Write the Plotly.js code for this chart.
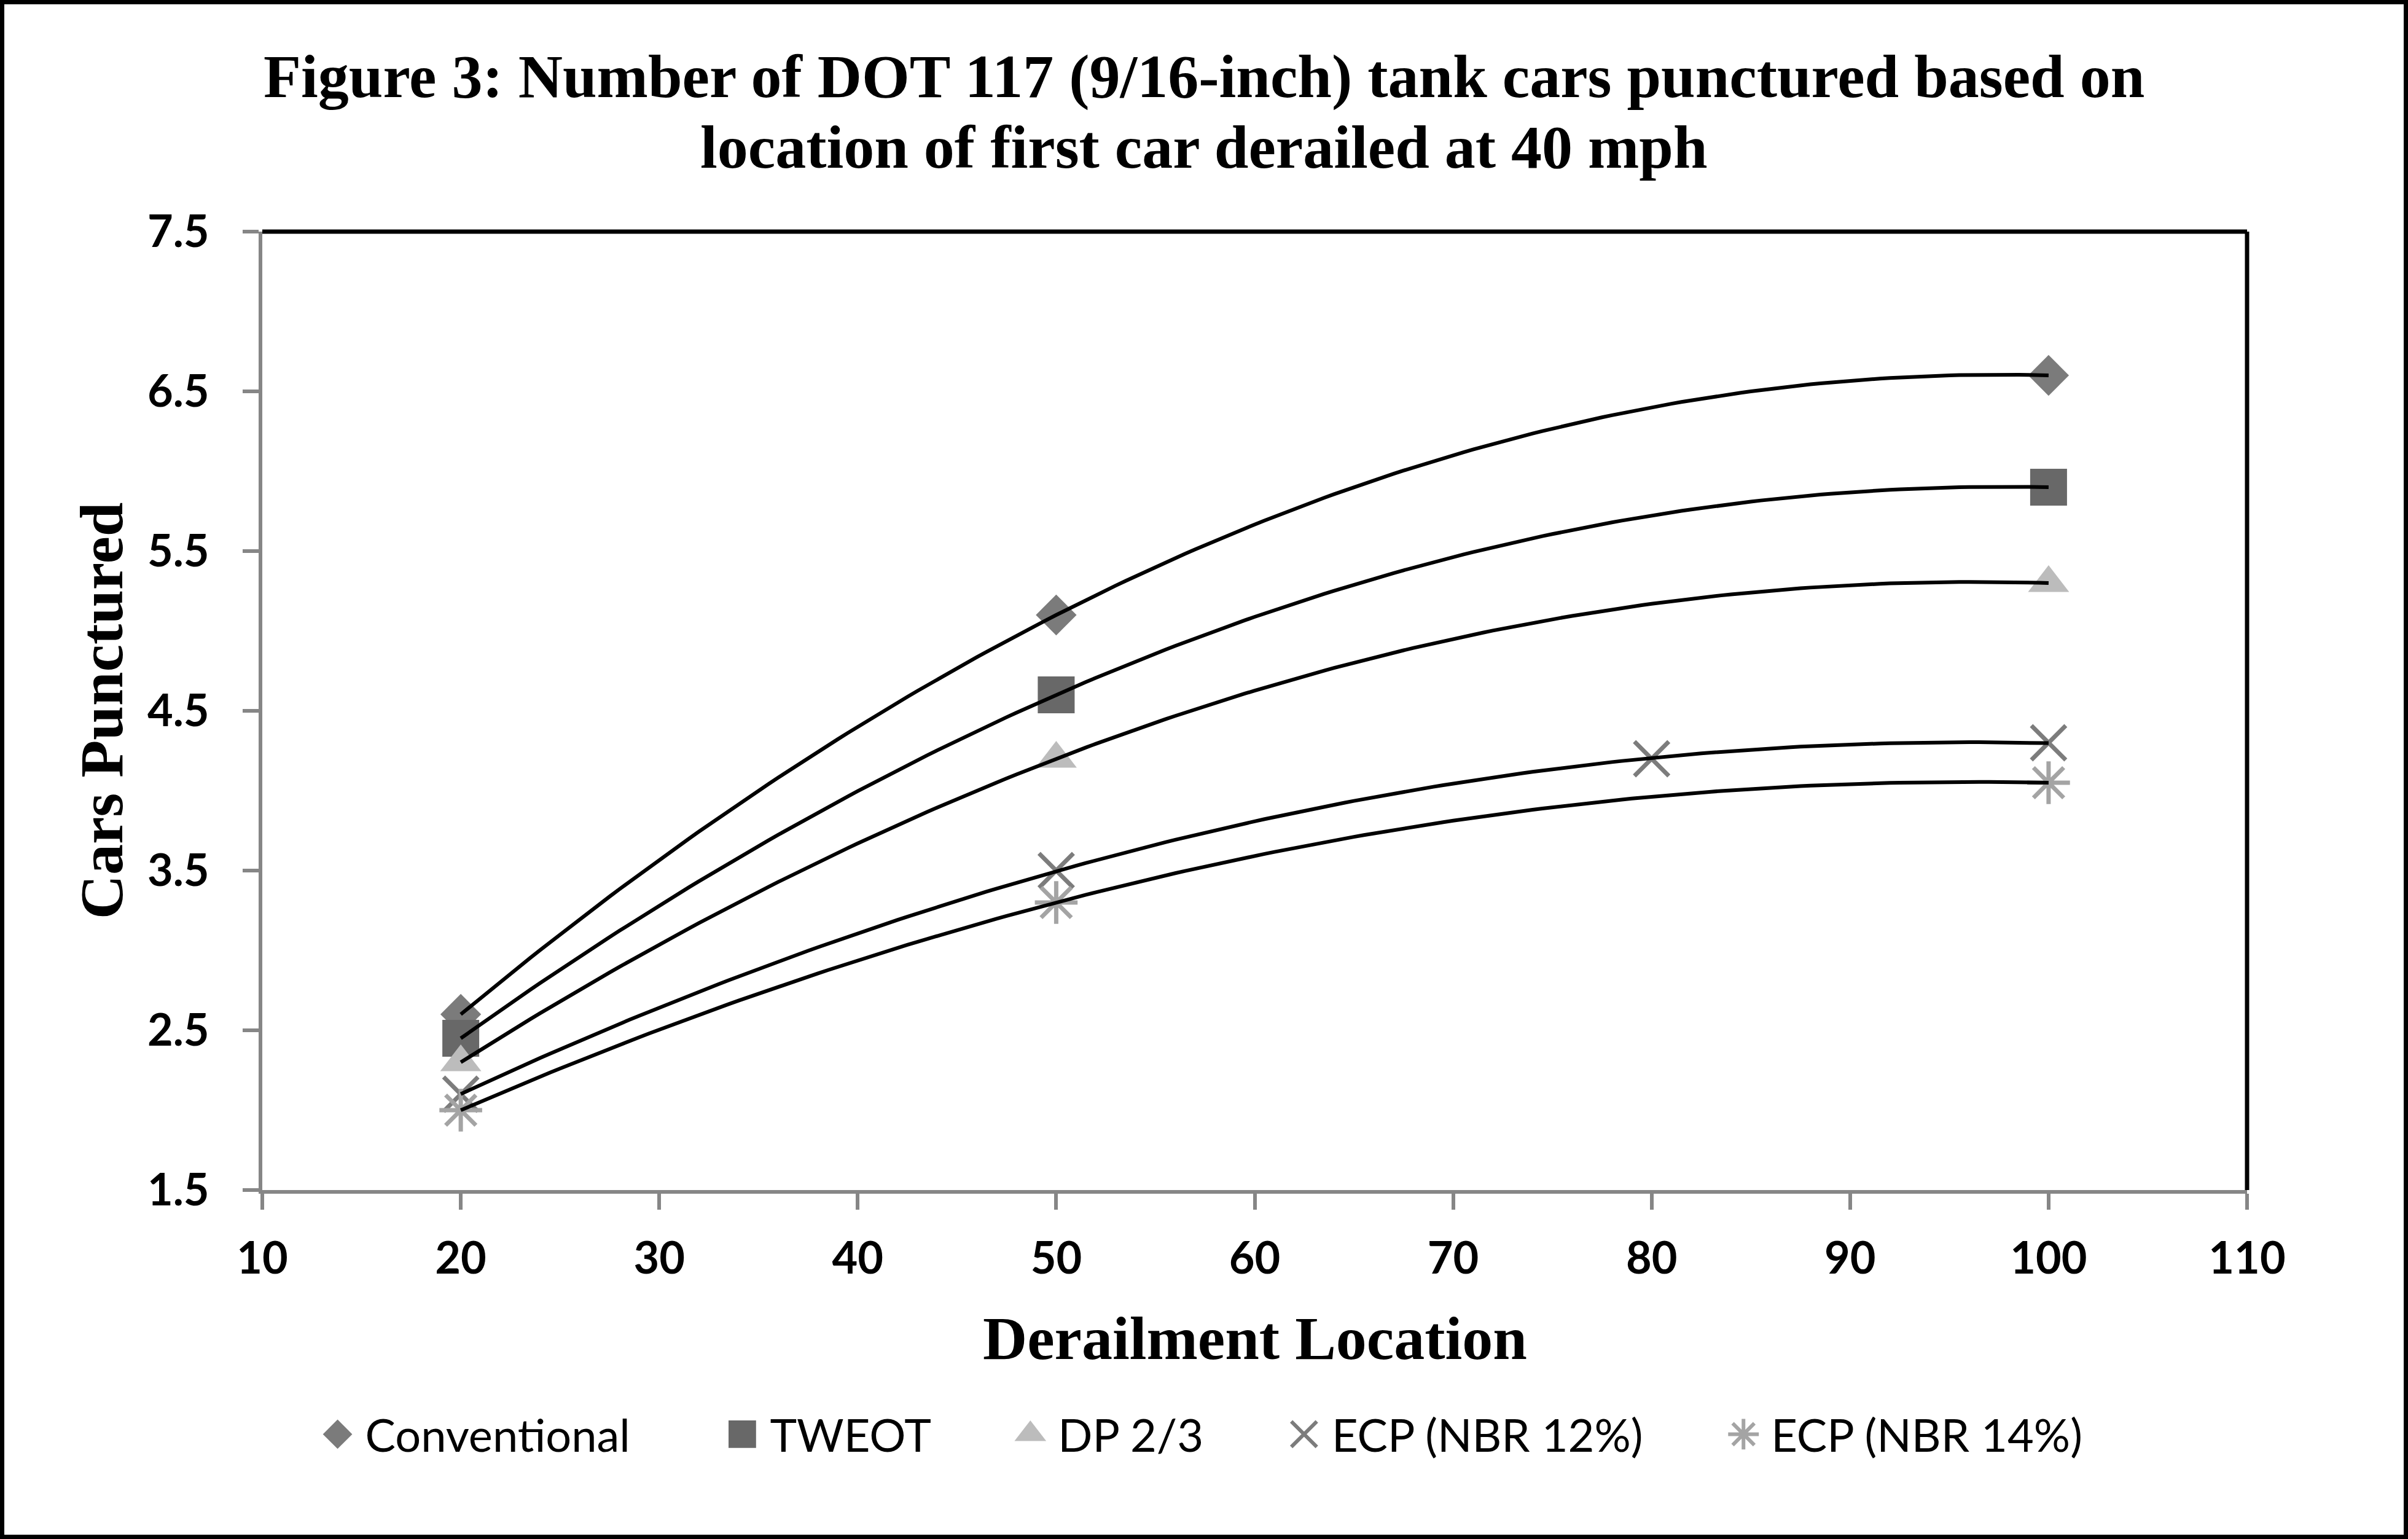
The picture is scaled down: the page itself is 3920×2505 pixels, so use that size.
<!DOCTYPE html>
<html>
<head>
<meta charset="utf-8">
<script src="https://cdn.plot.ly/plotly-3.0.1.min.js"></script>
<style>
  html, body { margin: 0; padding: 0; background: #fff; }
  #wrap { position: absolute; left: 0; top: 0; width: 3920px; height: 2505px; border: 7px solid #000; box-sizing: border-box; background: #fff; }
  #plot { width: 3906px; height: 2491px; }
</style>
</head>
<body>
<div id="wrap"><div id="plot"></div></div>
<script>
// ---- data ----
const seriesNames = ["Conventional", "TWEOT", "DP 2/3", "ECP (NBR 12%)", "ECP (NBR 14%)"];
const xConventional = [20, 50, 100];
const yConventional = [2.6, 5.1, 6.6];
const xTWEOT = [20, 50, 100];
const yTWEOT = [2.45, 4.6, 5.9];
const xDP = [20, 50, 100];
const yDP = [2.3, 4.2, 5.3];
const xECP12 = [20, 50, 80, 100];
const yECP12 = [2.1, 3.5, 4.2, 4.3];
const xECP14 = [20, 50, 100];
const yECP14 = [2.0, 3.3, 4.05];
const xTickVals = [10, 20, 30, 40, 50, 60, 70, 80, 90, 100, 110];
const yTickVals = [1.5, 2.5, 3.5, 4.5, 5.5, 6.5, 7.5];

const titleLines = ["Figure 3: Number of DOT 117 (9/16-inch) tank cars punctured based on",
                    "location of first car derailed at 40 mph"];
const xTitle = "Derailment Location";
const yTitle = "Cars Punctured";

// ---- styles ----
const styles = [
  {symbol: "diamond", size: 51, color: "#7b7b7b", lw: 0, lscale: 2.3, pad: 7},
  {symbol: "square", size: 60, color: "#686868", lw: 0, lscale: 2.8, pad: 6},
  {symbol: "triangle-up", size: 58, color: "#bcbcbc", lw: 0, lscale: 2.8, pad: 6},
  {symbol: "x-thin-open", size: 56, color: "#7c7c7c", lw: 7, lscale: 2.6, pad: 6},
  {symbol: "asterisk-open", size: 58, color: "#a4a4a4", lw: 7, lscale: 2.6, pad: 0}
];
const xs = [xConventional, xTWEOT, xDP, xECP12, xECP14];
const ys = [yConventional, yTWEOT, yDP, yECP12, yECP14];

// Excel-style polynomial (order 2) trendline, least squares fit of the data
function quadFit(x, y) {
  let n = x.length, s = [0,0,0,0,0], t = [0,0,0];
  for (let i = 0; i < n; i++) {
    let p = 1;
    for (let k = 0; k < 5; k++) { s[k] += p; if (k < 3) t[k] += p * y[i]; p *= x[i]; }
  }
  const A = [[s[0], s[1], s[2], t[0]], [s[1], s[2], s[3], t[1]], [s[2], s[3], s[4], t[2]]];
  for (let c = 0; c < 3; c++) {
    let piv = c;
    for (let r = c + 1; r < 3; r++) if (Math.abs(A[r][c]) > Math.abs(A[piv][c])) piv = r;
    [A[c], A[piv]] = [A[piv], A[c]];
    for (let r = 0; r < 3; r++) {
      if (r === c) continue;
      const f = A[r][c] / A[c][c];
      for (let k = c; k < 4; k++) A[r][k] -= f * A[c][k];
    }
  }
  return [A[0][3] / A[0][0], A[1][3] / A[1][1], A[2][3] / A[2][2]];
}

const traces = [];
seriesNames.forEach((name, i) => {
  const st = styles[i];
  const filled = st.lw === 0;
  traces.push({
    type: "scatter", mode: "markers", name: name + "\u00A0".repeat(st.pad),
    x: xs[i], y: ys[i],
    marker: filled ? {symbol: st.symbol, size: st.size, color: st.color, line: {width: 0}}
                   : {symbol: st.symbol, size: st.size, color: st.color, line: {width: st.lw, color: st.color}},
    cliponaxis: false
  });
});
seriesNames.forEach((name, i) => {
  const c = quadFit(xs[i], ys[i]);
  const x0 = Math.min(...xs[i]), x1 = Math.max(...xs[i]);
  const lx = [], ly = [];
  const steps = 160;
  for (let k = 0; k <= steps; k++) {
    const x = x0 + (x1 - x0) * k / steps;
    lx.push(x); ly.push(c[0] + c[1] * x + c[2] * x * x);
  }
  traces.push({type: "scatter", mode: "lines", x: lx, y: ly, showlegend: false, hoverinfo: "skip",
               line: {color: "#000", width: 6}});
});

const serif = "Liberation Serif, Times New Roman, serif";
const sans = "Lato, Carlito, Calibri, sans-serif";

const layout = {
  width: 3906, height: 2491,
  margin: {l: 420, r: 255, t: 370, b: 561},
  paper_bgcolor: "#fff", plot_bgcolor: "#fff",
  showlegend: true,
  legend: {orientation: "h", x: 0.024, y: -0.255, xanchor: "left", yanchor: "middle",
           font: {family: sans, size: 74, color: "#000"}, itemwidth: 80, bgcolor: "rgba(0,0,0,0)"},
  xaxis: {range: [10, 110], tickvals: xTickVals, ticks: "outside", ticklen: 26, tickwidth: 6,
          tickcolor: "#868686", showline: true, linecolor: "#868686", linewidth: 6, showgrid: false,
          zeroline: false, tickfont: {family: sans, size: 72, color: "#000", weight: "bold"},
          ticklabelstandoff: 18},
  yaxis: {range: [1.5, 7.5], tickvals: yTickVals, tickformat: ".1f", ticks: "outside", ticklen: 26, tickwidth: 6,
          tickcolor: "#868686", showline: true, linecolor: "#868686", linewidth: 6, showgrid: false,
          zeroline: false, tickfont: {family: sans, size: 72, color: "#000", weight: "bold"},
          ticklabelstandoff: 40},
  shapes: [
    {type: "line", xref: "paper", yref: "paper", x0: 0, x1: 1, y0: 1, y1: 1, line: {color: "#000", width: 7}},
    {type: "line", xref: "paper", yref: "paper", x0: 1, x1: 1, y0: 0, y1: 1, line: {color: "#000", width: 7}}
  ],
  annotations: [
    {text: titleLines[0], xref: "paper", yref: "paper", x: 0.4745, y: 1.162, xanchor: "center", yanchor: "middle",
     showarrow: false, font: {family: serif, size: 100, color: "#000", weight: "bold"}},
    {text: titleLines[1], xref: "paper", yref: "paper", x: 0.4745, y: 1.088, xanchor: "center", yanchor: "middle",
     showarrow: false, font: {family: serif, size: 100, color: "#000", weight: "bold"}},
    {text: xTitle, xref: "paper", yref: "paper", x: 0.5, y: -0.1545, xanchor: "center", yanchor: "middle",
     showarrow: false, font: {family: serif, size: 100, color: "#000", weight: "bold"}},
    {text: yTitle, xref: "paper", yref: "paper", x: -0.081, y: 0.5, xanchor: "center", yanchor: "middle",
     textangle: -90, showarrow: false, font: {family: serif, size: 100, color: "#000", weight: "bold"}}
  ]
};

Plotly.newPlot("plot", traces, layout, {displayModeBar: false, staticPlot: true}).then(gd => {
  // enlarge legend symbols to match the reference legend
  const items = gd.querySelectorAll(".legend .traces");
  items.forEach((it, i) => {
    const st = styles[i];
    if (!st) return;
    it.querySelectorAll("path.scatterpts").forEach(p => {
      const tr = p.getAttribute("transform") || "";
      p.setAttribute("transform", tr + " scale(" + st.lscale + ")");
      if (st.lw > 0) p.style.strokeWidth = (6 / st.lscale) + "px";
    });
  });
});
</script>
</body>
</html>
